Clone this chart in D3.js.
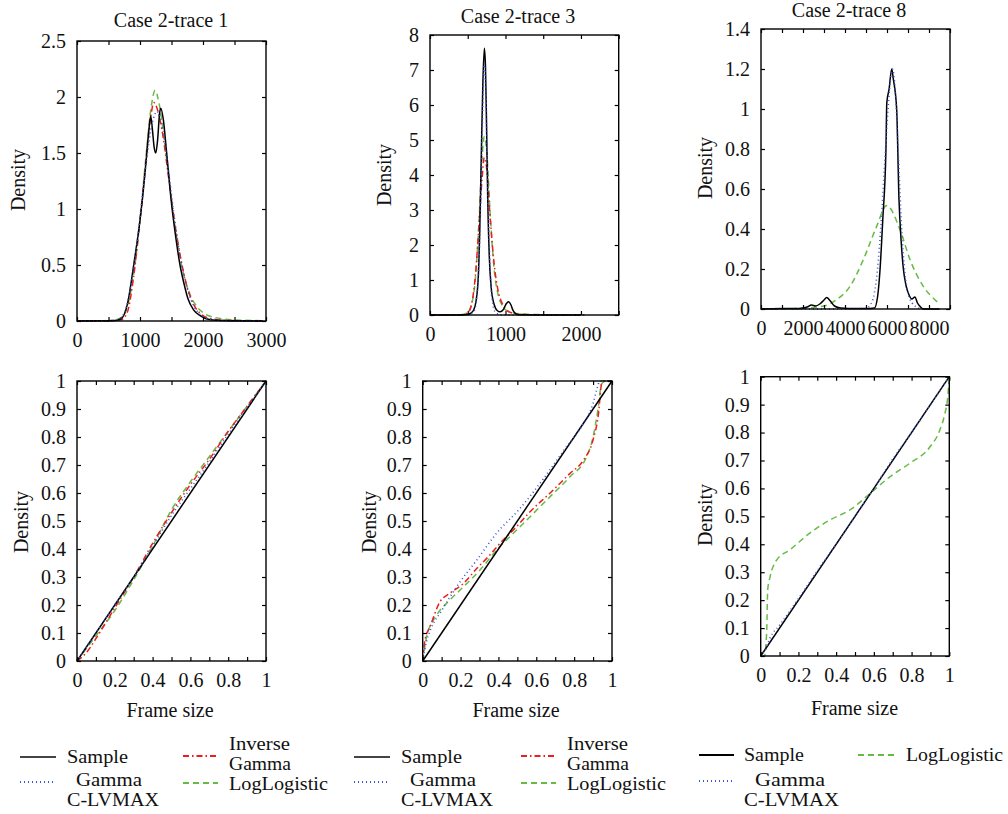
<!DOCTYPE html>
<html><head><meta charset="utf-8">
<script src="https://cdn.jsdelivr.net/npm/d3@7"></script>
<style>
body{margin:0;background:#fff;}
svg text{font-family:"Liberation Serif","Times New Roman",serif;fill:#111;}
</style></head>
<body><svg id="c" width="1008" height="814"></svg>
<script>
// ---------- DATA ----------
const titles = ["Case 2-trace 1","Case 2-trace 3","Case 2-trace 8"];
const yLabel = "Density";
const xLabel = "Frame size";
const seriesNames = ["Sample","Gamma C-LVMAX","Inverse Gamma","LogLogistic"];

// Top density panels [frame size, density]
const t1Sample = [[0,0],[300,0.002],[600,0.005],[700,0.02],[800,0.15],[900,0.5],[1000,0.9],[1050,1.15],[1100,1.45],[1140,1.7],[1170,1.83],[1195,1.72],[1225,1.55],[1250,1.5],[1280,1.62],[1310,1.85],[1330,1.9],[1370,1.8],[1420,1.52],[1500,1.05],[1560,0.78],[1635,0.5],[1700,0.33],[1760,0.2],[1850,0.1],[1950,0.05],[2050,0.02],[2200,0.006],[2500,0.002],[2950,0]];
const t1Gamma = [[0,0],[600,0.005],[700,0.03],[800,0.16],[900,0.48],[1000,0.92],[1100,1.42],[1200,1.78],[1270,1.87],[1340,1.78],[1450,1.35],[1550,0.9],[1650,0.54],[1750,0.29],[1850,0.14],[1950,0.06],[2100,0.02],[2400,0.003],[2950,0]];
const t1InvGamma = [[0,0],[500,0],[700,0.01],[800,0.08],[900,0.4],[1000,0.9],[1100,1.45],[1170,1.82],[1220,1.95],[1270,1.9],[1350,1.7],[1450,1.3],[1550,0.88],[1650,0.55],[1750,0.3],[1850,0.15],[1950,0.07],[2100,0.025],[2400,0.005],[2950,0]];
const t1LogLog = [[0,0],[500,0.002],[700,0.03],[800,0.13],[900,0.42],[1000,0.9],[1100,1.5],[1180,1.92],[1240,2.06],[1300,1.95],[1400,1.55],[1500,1.08],[1600,0.68],[1700,0.4],[1800,0.23],[1900,0.13],[2000,0.075],[2200,0.03],[2500,0.01],[2950,0.003]];

const t3Sample = [[0,0],[400,0],[480,0.01],[540,0.05],[580,0.15],[610,0.4],[640,1.1],[660,2.5],[680,4.6],[700,6.6],[720,7.62],[735,7.1],[750,5.3],[765,3.3],[785,1.7],[810,0.8],[850,0.3],[890,0.13],[930,0.09],[970,0.15],[1010,0.32],[1040,0.38],[1070,0.3],[1100,0.13],[1140,0.03],[1200,0.005],[1500,0],[2000,0]];
const t3Gamma = [[500,0],[580,0.1],[620,0.5],[650,1.6],[680,4.0],[700,6.0],[720,7.2],[740,6.4],[760,4.3],[780,2.4],[800,1.1],[830,0.35],[870,0.07],[950,0],[1500,0],[2000,0]];
const t3InvGamma = [[0,0],[400,0.005],[500,0.06],[550,0.3],[600,1.1],[650,2.6],[690,3.9],[720,4.5],[750,4.2],[800,2.7],[850,1.45],[900,0.72],[950,0.36],[1000,0.18],[1100,0.05],[1300,0.01],[1600,0.003],[2050,0]];
const t3LogLog = [[0,0],[400,0.01],[500,0.08],[550,0.3],[600,1.0],[650,2.7],[690,4.5],[720,5.1],[750,4.7],[800,2.8],[850,1.3],[900,0.6],[950,0.3],[1000,0.15],[1100,0.06],[1300,0.02],[1600,0.008],[2050,0.003]];

const t8Sample = [[0,0],[1000,0.002],[1800,0.003],[2200,0.01],[2400,0.02],[2600,0.015],[2800,0.025],[3000,0.045],[3130,0.057],[3300,0.04],[3500,0.015],[3800,0.005],[4500,0.002],[5000,0.002],[5400,0.005],[5550,0.06],[5670,0.2],[5800,0.45],[5950,0.8],[5990,1.03],[6100,1.1],[6224,1.2],[6300,1.15],[6460,1.0],[6570,0.55],[6680,0.33],[6780,0.2],[6900,0.12],[7050,0.07],[7180,0.05],[7330,0.06],[7450,0.03],[7600,0.01],[7730,0],[8500,0]];
const t8Gamma = [[0,0],[4000,0],[5000,0.003],[5200,0.02],[5400,0.08],[5550,0.2],[5700,0.4],[5900,0.75],[6050,1.0],[6200,1.18],[6260,1.2],[6400,1.08],[6550,0.75],[6700,0.4],[6850,0.18],[7000,0.08],[7200,0.03],[7400,0.01],[7600,0]];
const t8LogLog = [[0,0],[1000,0.001],[2000,0.004],[3000,0.015],[3605,0.047],[4238,0.113],[4873,0.247],[5508,0.413],[5984,0.517],[6619,0.397],[7095,0.247],[7730,0.113],[8365,0.038],[8524,0.022]];

// Bottom P-P panels
const pp1Sample = [[0,0],[1,1]];
const pp1Gamma = [[0,0],[0.1,0.1],[0.2,0.2],[0.3,0.3],[0.4,0.41],[0.5,0.52],[0.6,0.615],[0.7,0.71],[0.8,0.81],[0.9,0.905],[1,1]];
const pp1InvGamma = [[0,0],[0.05,0.03],[0.1,0.08],[0.2,0.19],[0.3,0.3],[0.4,0.42],[0.5,0.53],[0.6,0.63],[0.7,0.72],[0.8,0.82],[0.9,0.91],[1,1]];
const pp1LogLog = [[0,0],[0.1,0.09],[0.2,0.18],[0.3,0.29],[0.4,0.41],[0.5,0.54],[0.6,0.64],[0.7,0.73],[0.8,0.82],[0.9,0.91],[1,1]];

const pp3Sample = [[0,0],[1,1]];
const pp3Gamma = [[0,0],[0.02,0.07],[0.04,0.11],[0.1,0.18],[0.18,0.266],[0.285,0.36],[0.39,0.456],[0.514,0.545],[0.637,0.65],[0.743,0.75],[0.85,0.85],[0.9,0.92],[0.919,0.968],[0.937,1.0],[1,1]];
const pp3InvGamma = [[0,0],[0.012,0.075],[0.039,0.123],[0.09,0.21],[0.144,0.242],[0.215,0.277],[0.285,0.33],[0.347,0.373],[0.408,0.42],[0.496,0.48],[0.567,0.533],[0.673,0.6],[0.778,0.67],[0.85,0.718],[0.9,0.79],[0.928,0.88],[0.945,0.99],[0.954,1.0],[1,1]];
const pp3LogLog = [[0,0],[0.021,0.087],[0.074,0.164],[0.144,0.218],[0.215,0.265],[0.303,0.325],[0.39,0.396],[0.479,0.456],[0.567,0.515],[0.673,0.587],[0.778,0.658],[0.866,0.73],[0.9,0.8],[0.928,0.908],[0.945,0.99],[0.97,1.0],[1,1]];

const pp8Sample = [[0,0],[1,1]];
const pp8Gamma = [[0,0],[0.03,0.03],[0.05,0.065],[0.1,0.11],[0.2,0.205],[0.3,0.305],[0.4,0.4],[0.5,0.5],[0.6,0.6],[0.7,0.705],[0.8,0.8],[0.9,0.9],[1,1]];
const pp8LogLog = [[0,0],[0.02,0.0],[0.032,0.093],[0.037,0.236],[0.05,0.284],[0.085,0.344],[0.155,0.38],[0.26,0.44],[0.367,0.487],[0.473,0.523],[0.58,0.582],[0.686,0.642],[0.79,0.69],[0.898,0.749],[0.95,0.809],[0.977,0.869],[0.99,0.916],[1,1]];

// ---------- STYLES ----------
const styles = {
  Sample:   {stroke:"#000", dash:null, w:1.5},
  Gamma:    {stroke:"#3a56d4", dash:"1,3", w:1.6},
  InvGamma: {stroke:"#ee1c1c", dash:"6,3,1.5,3", w:1.5},
  LogLog:   {stroke:"#66bb44", dash:"6,4", w:1.5}
};

const svg = d3.select("#c");
const FS = 20;

function range(a,b,s){const r=[];for(let v=a;v<=b+1e-9;v+=s)r.push(+v.toFixed(6));return r;}

function panel(cfg){
  const x = d3.scaleLinear().domain(cfg.xDomain).range([cfg.left,cfg.right]);
  const y = d3.scaleLinear().domain(cfg.yDomain).range([cfg.bottom,cfg.top]);
  const g = svg.append("g");
  const line = d3.line().x(d=>x(d[0])).y(d=>y(d[1])).curve(d3.curveMonotoneX);
  cfg.series.forEach(s=>{
    const st = styles[s.style];
    g.append("path").attr("d",line(s.data)).attr("fill","none")
     .attr("stroke",st.stroke).attr("stroke-width",st.w)
     .attr("stroke-dasharray",st.dash).attr("stroke-linejoin","round");
  });
  const fmt = d3.format("~g");
  const xl = cfg.xLabelEvery;
  const xf = d=> (Math.abs(Math.round(d/xl)*xl - d) < 1e-6) ? fmt(d) : "";
  const bx = d3.axisBottom(x).tickValues(cfg.xTicks).tickSize(-4).tickPadding(12).tickFormat(xf);
  const tx = d3.axisTop(x).tickValues(cfg.xTicks).tickSize(-4).tickFormat("");
  const ly = d3.axisLeft(y).tickValues(cfg.yTicks).tickSize(-4).tickPadding(11).tickFormat(fmt);
  const ry = d3.axisRight(y).tickValues(cfg.yTicks).tickSize(-4).tickFormat("");
  const ax = [
    g.append("g").attr("transform",`translate(0,${cfg.bottom})`).call(bx),
    g.append("g").attr("transform",`translate(0,${cfg.top})`).call(tx),
    g.append("g").attr("transform",`translate(${cfg.left},0)`).call(ly),
    g.append("g").attr("transform",`translate(${cfg.right},0)`).call(ry)
  ];
  ax.forEach(a=>{
    a.select(".domain").remove();
    a.selectAll("line").attr("stroke","#000").attr("stroke-width",1.2);
    a.selectAll("text").style("font-size",FS+"px").attr("fill","#111").style("font-family",'"Liberation Serif",serif');
  });
  g.append("rect").attr("x",cfg.left).attr("y",cfg.top)
   .attr("width",cfg.right-cfg.left).attr("height",cfg.bottom-cfg.top)
   .attr("fill","none").attr("stroke","#000").attr("stroke-width",1.4);
  svg.append("text").attr("transform",`translate(${cfg.ylx},${cfg.yly}) rotate(-90)`)
    .attr("text-anchor","middle").attr("dy","0.35em").style("font-size","20px").text(yLabel);
  if(cfg.title) svg.append("text").attr("x",cfg.tx).attr("y",cfg.ty).attr("text-anchor","middle").style("font-size","20px").text(cfg.title);
  if(cfg.xlabel) svg.append("text").attr("x",cfg.xlx).attr("y",cfg.xly).attr("text-anchor","middle").style("font-size","20px").text(cfg.xlabel);
}

// Top row
panel({left:77,right:266,top:41,bottom:321,xDomain:[0,3000],yDomain:[0,2.5],
  xTicks:range(0,3000,500),xLabelEvery:1000,yTicks:range(0,2.5,0.5),
  ylx:18,yly:180,title:titles[0],tx:171,ty:27,
  series:[{data:t1LogLog,style:"LogLog"},{data:t1InvGamma,style:"InvGamma"},{data:t1Sample,style:"Sample"},{data:t1Gamma,style:"Gamma"}]});
panel({left:430,right:618.7,top:35,bottom:315,xDomain:[0,2500],yDomain:[0,8],
  xTicks:range(0,2500,500),xLabelEvery:1000,yTicks:range(0,8,1),
  ylx:384,yly:175,title:titles[1],tx:518,ty:23,
  series:[{data:t3LogLog,style:"LogLog"},{data:t3InvGamma,style:"InvGamma"},{data:t3Sample,style:"Sample"},{data:t3Gamma,style:"Gamma"}]});
panel({left:761,right:950,top:29,bottom:309,xDomain:[0,9000],yDomain:[0,1.4],
  xTicks:range(0,9000,1000),xLabelEvery:2000,yTicks:range(0,1.4,0.2),
  ylx:705,yly:168,title:titles[2],tx:849,ty:17,
  series:[{data:t8LogLog,style:"LogLog"},{data:t8Sample,style:"Sample"},{data:t8Gamma,style:"Gamma"}]});

// Bottom row
const ppT = range(0,1,0.1);
panel({left:77,right:266,top:381,bottom:661,xDomain:[0,1],yDomain:[0,1],
  xTicks:ppT,xLabelEvery:0.2,yTicks:ppT,ylx:20.5,yly:522,xlabel:xLabel,xlx:170,xly:717,
  series:[{data:pp1LogLog,style:"LogLog"},{data:pp1InvGamma,style:"InvGamma"},{data:pp1Sample,style:"Sample"},{data:pp1Gamma,style:"Gamma"}]});
panel({left:422.7,right:612,top:381,bottom:661,xDomain:[0,1],yDomain:[0,1],
  xTicks:ppT,xLabelEvery:0.2,yTicks:ppT,ylx:369,yly:522,xlabel:xLabel,xlx:516,xly:717,
  series:[{data:pp3LogLog,style:"LogLog"},{data:pp3InvGamma,style:"InvGamma"},{data:pp3Sample,style:"Sample"},{data:pp3Gamma,style:"Gamma"}]});
panel({left:760.7,right:949.3,top:376.7,bottom:656,xDomain:[0,1],yDomain:[0,1],
  xTicks:ppT,xLabelEvery:0.2,yTicks:ppT,ylx:705,yly:515,xlabel:xLabel,xlx:854.5,xly:715,
  series:[{data:pp8LogLog,style:"LogLog"},{data:pp8Sample,style:"Sample"},{data:pp8Gamma,style:"Gamma"}]});

// ---------- LEGENDS ----------
const LFS = 18;
function legLine(x1,x2,yy,st,color){
  const s = styles[st];
  svg.append("line").attr("x1",x1).attr("x2",x2).attr("y1",yy).attr("y2",yy)
    .attr("stroke",color||s.stroke).attr("stroke-width",s.w+0.3).attr("stroke-dasharray",s.dash);
}
function legText(x,yy,t,w){
  const el = svg.append("text").attr("x",x).attr("y",yy).style("font-size",LFS+"px").text(t);
  if(w) el.attr("textLength",w).attr("lengthAdjust","spacingAndGlyphs");
}
const legendOffsets = [0, 334];
legendOffsets.forEach(o=>{
  const d = o?4:0;
  legLine(20+o,56+o,757,"Sample","#444");
  legText(67+o,763,seriesNames[0],61);
  legLine(20+o,56+o,782,"Gamma");
  legText(76+o,786,"Gamma",66);
  legText(67+o,806,"C-LVMAX",92);
  legLine(183+o+d,218+o+d,756,"InvGamma");
  legText(229+o+d,750,"Inverse",61);
  legText(229+o+d,770,"Gamma",62);
  legLine(183+o+d,218+o+d,783,"LogLog");
  legText(229+o+d,790,seriesNames[3],99);
});
legLine(699,734,755,"Sample");
legText(744,761,seriesNames[0],60);
legLine(858,897,755,"LogLog");
legText(906,761,seriesNames[3],97);
legLine(699,734,781,"Gamma");
legText(755,786,"Gamma",70);
legText(744,806,"C-LVMAX",95);
</script>
</body></html>
